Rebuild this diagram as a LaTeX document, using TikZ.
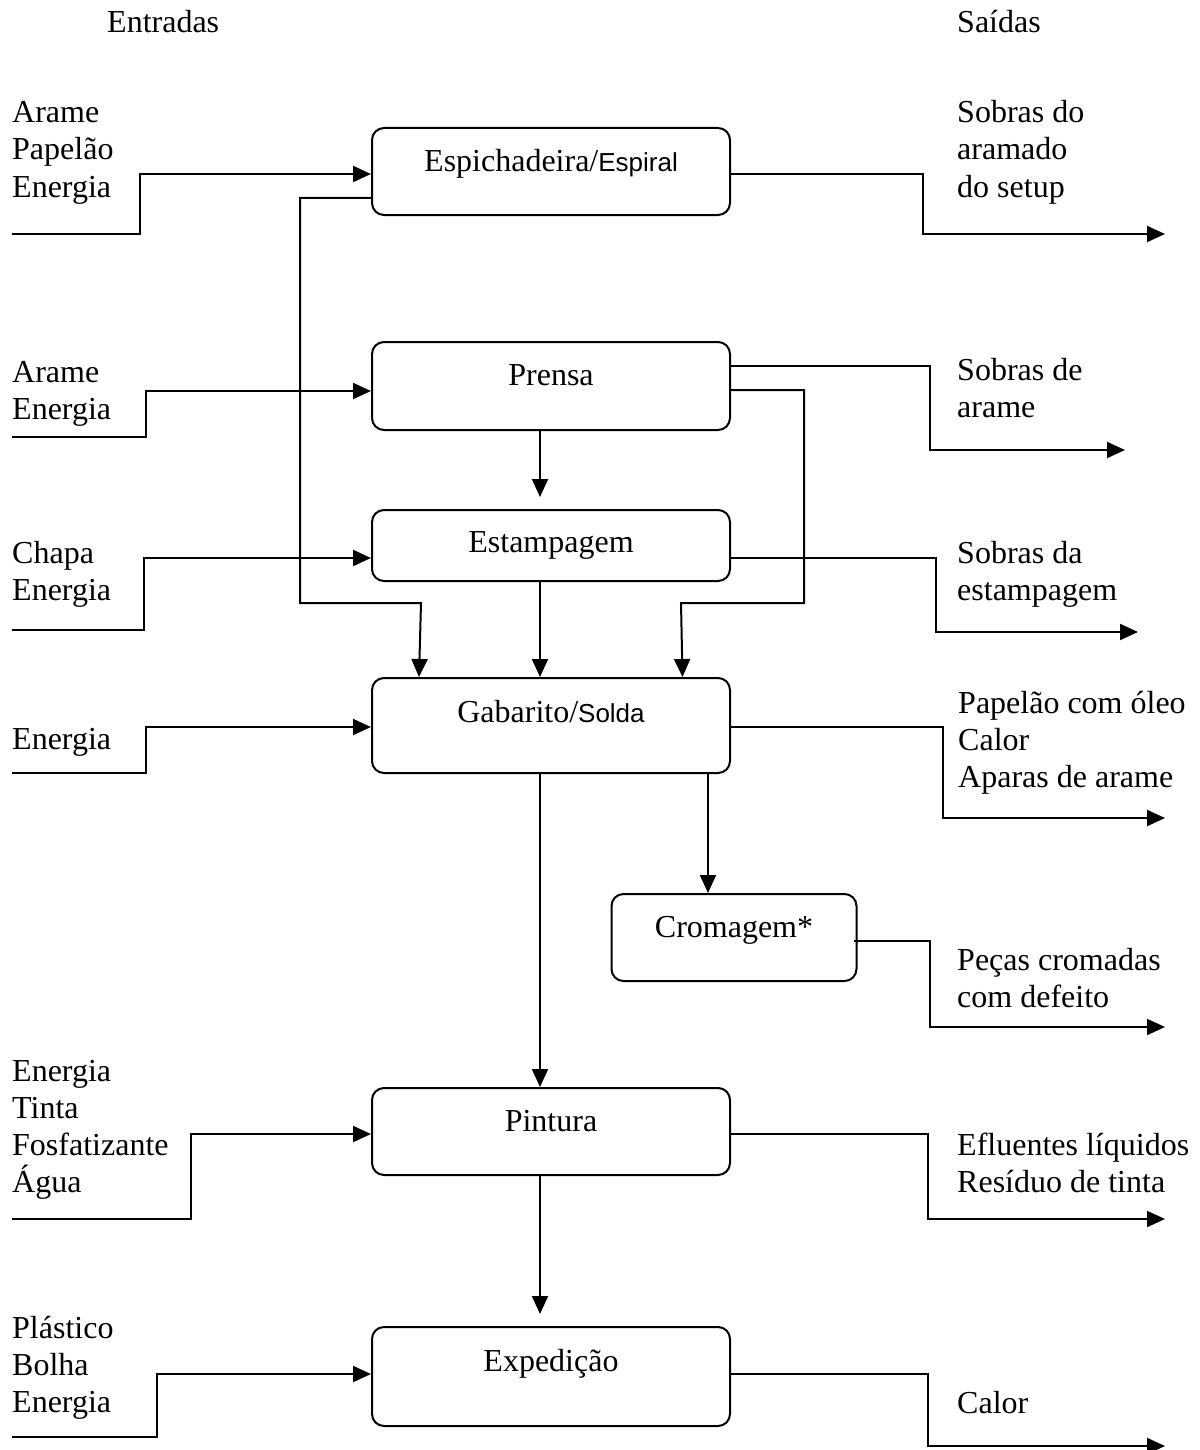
\documentclass[tikz,border=0pt]{standalone}
\usepackage{fontspec}
\setmainfont{Liberation Serif}
\newfontfamily\sansf{Liberation Sans}
\usetikzlibrary{arrows.meta,calc}
\tikzset{
  box/.style={draw, line width=2pt, rounded corners=12pt, inner sep=0pt,
    minimum width=358pt, font=\fontsize{32}{37}\selectfont},
  lbl/.style={anchor=base west, inner sep=0pt, font=\fontsize{32}{37}\selectfont},
  arr/.style={line width=2pt, line join=miter, -{Triangle[length=18pt,width=16pt]}},
}
\newcommand\txtlines[4]{\foreach \t [count=\i from 0] in {#4} {\node[lbl] (#1-\i) at (#2,{#3+37*\i}) {\t};}}
\newcommand\sfpart[1]{{\sansf\fontsize{26}{30}\selectfont #1}}
\begin{document}
\begin{tikzpicture}[x=1pt,y=-1pt]
\useasboundingbox (0,0) rectangle (1199,1450);

% headers
\node[lbl] (hin) at (107,33) {Entradas};
\node[lbl] (hout) at (957,33) {Saídas};

% process boxes
\node[box, minimum height=87pt, text height=10.5pt, text depth=9.5pt] (espi) at (551,171.5) {Espichadeira/\sfpart{Espiral}};
\node[box, minimum height=88pt, text height=9pt, text depth=11pt] (prensa) at (551,386) {Prensa};
\node[box, minimum height=71pt, text height=16.5pt, text depth=3.5pt] (estamp) at (551,545.5) {Estampagem};
\node[box, minimum height=95pt, text height=6.5pt, text depth=13.5pt] (gab) at (551,725.5) {Gabarito/\sfpart{Solda}};
\node[box, minimum width=245pt, minimum height=87pt, text height=9.5pt, text depth=10.5pt] (crom) at (734,937.5) {Cromagem*};
\node[box, minimum height=87pt, text height=9.5pt, text depth=10.5pt] (pint) at (551,1131.5) {Pintura};
\node[box, minimum height=99pt, text height=4.5pt, text depth=15.5pt] (exped) at (551,1376.5) {Expedição};

% input labels
\txtlines{in1}{12}{123}{Arame,Papelão,Energia}
\txtlines{in2}{12}{382}{Arame,Energia}
\txtlines{in3}{12}{563}{Chapa,Energia}
\txtlines{in4}{12}{749}{Energia}
\txtlines{in5}{12}{1081}{Energia,Tinta,Fosfatizante,Água}
\txtlines{in6}{12}{1338}{Plástico,Bolha,Energia}

% output labels
\txtlines{out1}{957}{123}{Sobras do,aramado,do setup}
\txtlines{out2}{957}{380}{Sobras de,arame}
\txtlines{out3}{957}{563}{Sobras da,estampagem}
\txtlines{out4}{958}{713}{Papelão com óleo,Calor,Aparas de arame}
\txtlines{out5}{957}{970}{Peças cromadas,com defeito}
\txtlines{out6}{957}{1155}{Efluentes líquidos,Resíduo de tinta}
\txtlines{out7}{957}{1413}{Calor}

% free ends
\coordinate (s1) at (12,234);
\coordinate (s2) at (12,437);
\coordinate (s3) at (12,630);
\coordinate (s4) at (12,773);
\coordinate (s5) at (12,1219);
\coordinate (s6) at (12,1437);
\coordinate (e1) at (1165,234);
\coordinate (e2) at (1125,450);
\coordinate (e3) at (1138,632);
\coordinate (e4) at (1165,818);
\coordinate (e5) at (1165,1027);
\coordinate (e6) at (1165,1219);
\coordinate (e7) at (1165,1446);

% inputs
\draw[arr] (s1) -- (140,234) -- (140,174) -- ($(espi.west)+(0,2.5)$);
\draw[arr] (s2) -- (146,437) -- (146,391) -- ($(prensa.west)+(0,5)$);
\draw[arr] (s3) -- (144,630) -- (144,558) -- ($(estamp.west)+(0,12.5)$);
\draw[arr] (s4) -- (146,773) -- (146,727) -- ($(gab.west)+(0,1.5)$);
\draw[arr] (s5) -- (191,1219) -- (191,1134) -- ($(pint.west)+(0,2.5)$);
\draw[arr] (s6) -- (157,1437) -- (157,1374) -- ($(exped.west)+(0,-2.5)$);

% outputs
\draw[arr] ($(espi.east)+(0,2.5)$) -- (923,174) -- (923,234) -- (e1);
\draw[arr] ($(prensa.east)+(0,-20)$) -- (930,366) -- (930,450) -- (e2);
\draw[arr] ($(estamp.east)+(0,12.5)$) -- (936,558) -- (936,632) -- (e3);
\draw[arr] ($(gab.east)+(0,1.5)$) -- (943,727) -- (943,818) -- (e4);
\draw[arr] ($(crom.east)+(-4,3.5)$) -- (930,941) -- (930,1027) -- (e5);
\draw[arr] ($(pint.east)+(0,2.5)$) -- (928,1134) -- (928,1219) -- (e6);
\draw[arr] ($(exped.east)+(0,-2.5)$) -- (928,1374) -- (928,1446) -- (e7);

% internal flow
\draw[arr] ($(espi.west)+(0,26.5)$) -- (300,198) -- (300,603) -- (421,603) -- ($(gab.north west)+(48,0)$);
\draw[arr] ($(prensa.east)+(0,4)$) -- (804,390) -- (804,603) -- (681,603) -- ($(gab.north west)+(311.5,0)$);
\draw[arr, shorten >=12pt] ($(prensa.south)+(-11,0)$) -- ($(estamp.north)+(-11,0)$);
\draw[arr] ($(estamp.south)+(-11,0)$) -- ($(gab.north)+(-11,0)$);
\draw[arr] ($(gab.south)+(-11,0)$) -- ($(pint.north)+(-11,0)$);
\draw[arr] ($(gab.south)+(157,0)$) -- ($(crom.north)+(-26,0)$);
\draw[arr, shorten >=12pt] ($(pint.south)+(-11,0)$) -- ($(exped.north)+(-11,0)$);
\end{tikzpicture}
\end{document}
